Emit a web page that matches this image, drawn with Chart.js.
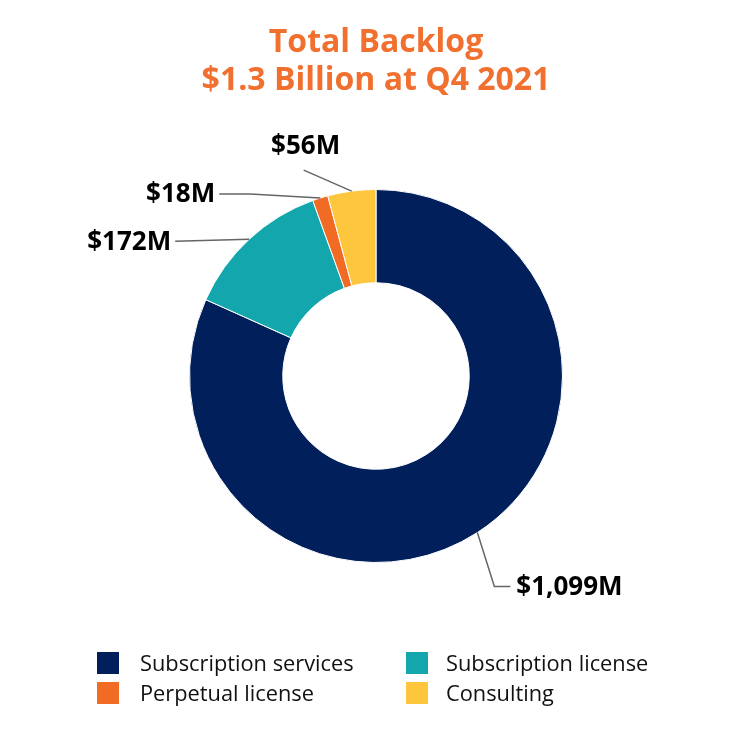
<!DOCTYPE html>
<html>
<head>
<meta charset="utf-8">
<script src="https://cdn.jsdelivr.net/npm/chart.js@4"></script>
<style>
    body { margin: 0; background: #ffffff; }
    #wrap { position: relative; width: 750px; height: 750px; }
    #legend { position: absolute; left: 97px; top: 652px; width: 620px; font-family: "Open Sans", sans-serif; font-size: 21.8px; color: #111111; }
    .item { position: absolute; height: 22px; line-height: 22px; white-space: nowrap; }
    .box { position: absolute; left: 0; top: 0; width: 22px; height: 22px; }
    .txt { position: absolute; left: 43px; top: 0px; }
</style>
</head>
<body>
<div id="wrap">
    <canvas id="backlogChart" width="750" height="750"></canvas>
    <div id="legend"></div>
</div>
<script>
const categories = ['Subscription services', 'Subscription license', 'Perpetual license', 'Consulting'];
const backlogValues = [1099, 172, 18, 56];
const valueLabels = ['$1,099M', '$172M', '$18M', '$56M'];
const sliceColors = ['#001f5b', '#13a6ad', '#f26b25', '#fec63c'];
const legendOrder = [0, 1, 2, 3];

// where each callout goes, relative to the point on the outer edge of its slice
const callouts = [
    { elbow: [17, 54], end: [33, 54], align: 'left' },
    { elbow: [-74, 2], end: [-74, 2], align: 'right' },
    { elbow: [-70, -4], end: [-101, -4], align: 'right' },
    { elbow: [-48, -21], end: [-48, -21], align: 'center' }
];

const calloutPlugin = {
    id: 'callouts',
    afterDatasetsDraw(chart) {
        const ctx = chart.ctx;
        const meta = chart.getDatasetMeta(0);
        ctx.save();
        ctx.strokeStyle = '#666666';
        ctx.lineWidth = 1.5;
        ctx.fillStyle = '#000000';
        ctx.font = 'bold 26px "Open Sans"';
        ctx.textBaseline = 'middle';
        meta.data.forEach((arc, i) => {
            const p = arc.getProps(['x', 'y', 'startAngle', 'endAngle', 'outerRadius'], true);
            const mid = (p.startAngle + p.endAngle) / 2;
            const sx = p.x + Math.cos(mid) * p.outerRadius;
            const sy = p.y + Math.sin(mid) * p.outerRadius;
            const c = callouts[i];
            ctx.beginPath();
            ctx.moveTo(sx, sy);
            ctx.lineTo(sx + c.elbow[0], sy + c.elbow[1]);
            ctx.lineTo(sx + c.end[0], sy + c.end[1]);
            ctx.stroke();
            const ex = sx + c.end[0];
            const ey = sy + c.end[1];
            ctx.textAlign = c.align;
            if (c.align === 'left') {
                ctx.fillText(valueLabels[i], ex + 6, ey + 1);
            } else if (c.align === 'right') {
                ctx.fillText(valueLabels[i], ex - 4, ey + 1);
            } else {
                ctx.fillText(valueLabels[i], ex + 2, ey - 23);
            }
        });
        ctx.restore();
    }
};

const ctx = document.getElementById('backlogChart').getContext('2d');
new Chart(ctx, {
    type: 'doughnut',
    data: {
        labels: categories,
        datasets: [
            {
                data: backlogValues,
                backgroundColor: sliceColors,
                borderColor: '#ffffff',
                borderWidth: 1
            }
        ]
    },
    options: {
        responsive: false,
        animation: false,
        cutout: '50%',
        layout: {
            padding: { left: 189, right: 187, top: 0, bottom: 187 }
        },
        plugins: {
            legend: { display: false },
            tooltip: { enabled: false },
            title: {
                display: true,
                text: ['Total Backlog', '$1.3 Billion at Q4 2021'],
                color: '#f1702f',
                font: { family: 'Open Sans', size: 32, weight: 'bold', lineHeight: 1.1875 },
                padding: { top: 24, bottom: 89 }
            }
        }
    },
    plugins: [calloutPlugin]
});

const legendEl = document.getElementById('legend');
legendOrder.forEach((idx, n) => {
    const item = document.createElement('div');
    item.className = 'item';
    item.style.left = (n % 2 === 0 ? 0 : 309) + 'px';
    item.style.top = (Math.floor(n / 2) * 30) + 'px';
    const txtLeft = n % 2 === 0 ? 43 : 40;
    item.innerHTML = '<span class="box" style="background:' + sliceColors[idx] + '"></span><span class="txt" style="left:' + txtLeft + 'px">' + categories[idx] + '</span>';
    legendEl.appendChild(item);
});
</script>
</body>
</html>
